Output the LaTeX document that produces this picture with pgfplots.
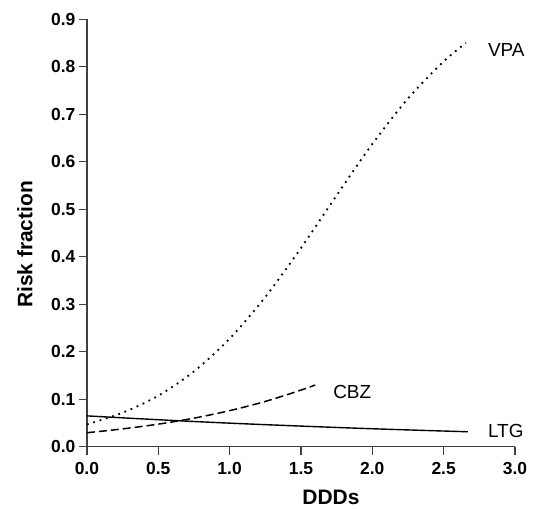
\documentclass[border=0pt]{standalone}
\usepackage{pgfplots}
\pgfplotsset{compat=1.18}
\usepackage{fontspec}
\setmainfont{Liberation Sans}
\begin{document}
\begin{tikzpicture}
\begin{axis}[
  scale only axis,
  width=428bp, height=427.4bp,
  xmin=0, xmax=3, ymin=0, ymax=0.9,
  axis x line=bottom, axis y line=left,
  axis line style={-, line width=1.3pt, black!75},
  xtick={0,0.5,...,3.0}, ytick={0,0.1,...,0.9},
  tick style={line width=1.3pt, black!75},
  tick align=outside, major tick length=8bp,
  /pgf/number format/assume math mode=true,
  /pgf/number format/fixed, /pgf/number format/fixed zerofill, /pgf/number format/precision=1,
  xticklabel style={font=\fontsize{17.5}{19}\selectfont\bfseries, yshift=-4bp},
  yticklabel style={font=\fontsize{17.5}{19}\selectfont\bfseries},
  xlabel={DDDs}, ylabel={Risk fraction},
  xlabel style={font=\fontsize{21}{24}\selectfont\bfseries, at={(axis description cs:0.57,0)}, anchor=center, yshift=-51bp},
  ylabel style={font=\fontsize{21}{24}\selectfont\bfseries, at={(axis description cs:0,0.473)}, anchor=center, yshift=62bp},
  clip=false,
]
\path (rel axis cs:-0.203,-0.143) (rel axis cs:1.056,1.045);
\addplot[black, line width=1.8pt, dash pattern=on 1.8bp off 4.8bp, smooth] coordinates {
(0,0.047) (0.25,0.0716) (0.5,0.1074) (0.75,0.1585) (1.0,0.2275) (1.25,0.3152)
(1.5,0.4182) (1.75,0.5292) (2.0,0.6374) (2.25,0.7332) (2.5,0.8112) (2.656,0.8501)};
\addplot[black, line width=1.5pt, dash pattern=on 8bp off 4bp, smooth] coordinates {
(0,0.0295) (0.25,0.0376) (0.5,0.0476) (0.75,0.0602) (1.0,0.0760) (1.25,0.0954) (1.5,0.1192) (1.6,0.13)};
\addplot[black, line width=1.4pt, smooth] coordinates {
(0,0.065) (0.5,0.0569) (1.0,0.0497) (1.5,0.0435) (2.0,0.0379) (2.5,0.0331) (2.67,0.0316)};
\node[anchor=west, font=\fontsize{19}{21}\selectfont, inner sep=0pt] at (axis cs:2.81,0.836) {VPA};
\node[anchor=west, font=\fontsize{19}{21}\selectfont, inner sep=0pt] at (axis cs:1.725,0.116) {CBZ};
\node[anchor=west, font=\fontsize{19}{21}\selectfont, inner sep=0pt] at (axis cs:2.81,0.033) {LTG};
\end{axis}
\end{tikzpicture}
\end{document}
